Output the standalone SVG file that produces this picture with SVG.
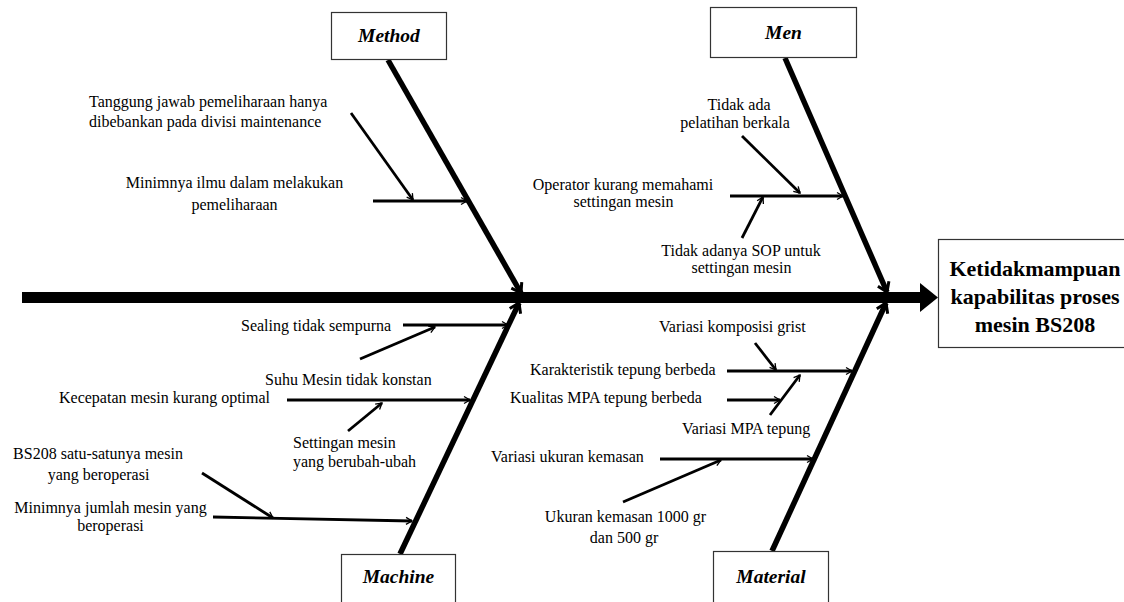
<svg xmlns="http://www.w3.org/2000/svg" width="1124" height="602" viewBox="0 0 1124 602">
<style>
.box{fill:#fff;stroke:#333;stroke-width:1.2}
.cat{font-family:'Liberation Serif','Times New Roman','DejaVu Serif',serif;font-size:19.5px;font-weight:bold;font-style:italic;text-anchor:middle;fill:#000}
.eff{font-family:'Liberation Serif','Times New Roman','DejaVu Serif',serif;font-size:22px;font-weight:bold;text-anchor:middle;fill:#000}
.t{font-family:'Liberation Serif','Times New Roman','DejaVu Serif',serif;font-size:16px;fill:#000}
.m{text-anchor:middle}
.bone{stroke:#000;stroke-width:5.5;fill:none;marker-end:url(#ah)}
.br{stroke:#000;stroke-width:2.8;fill:none;marker-end:url(#sm)}
</style>
<defs>
<marker id="ah" viewBox="-12 -8 14 16" markerWidth="14" markerHeight="16" refX="0" refY="0" orient="auto" markerUnits="userSpaceOnUse">
<path d="M-9,-6 L0,0 L-9,6" fill="none" stroke="#000" stroke-width="3"/>
</marker>
<marker id="sm" viewBox="-8 -5 10 10" markerWidth="10" markerHeight="10" refX="0" refY="0" orient="auto" markerUnits="userSpaceOnUse">
<path d="M-6,-3.5 L0,0 L-6,3.5" fill="none" stroke="#000" stroke-width="1.3"/>
</marker>
</defs>
<rect width="1124" height="602" fill="#fff"/>
<g id="connectors">
<line x1="22" y1="297.5" x2="922" y2="297.5" stroke="#000" stroke-width="11"/>
<polygon points="920,283 938,297.5 920,312" fill="#000"/>
<line class="bone" x1="388" y1="60" x2="521" y2="293"/>
<line class="bone" x1="785" y1="58" x2="887" y2="292"/>
<line class="bone" x1="400" y1="554" x2="519" y2="303"/>
<line class="bone" x1="772" y1="551" x2="886" y2="303"/>
<line class="br" x1="351" y1="113" x2="413" y2="200"/>
<line class="br" x1="373" y1="201" x2="467" y2="201"/>
<line class="br" x1="742" y1="136" x2="800" y2="193"/>
<line class="br" x1="730" y1="196" x2="843" y2="196"/>
<line class="br" x1="742" y1="238" x2="763" y2="197"/>
<line class="br" x1="403" y1="325" x2="508" y2="325"/>
<line class="br" x1="360" y1="359" x2="435" y2="327"/>
<line class="br" x1="287" y1="400" x2="470" y2="400"/>
<line class="br" x1="348" y1="431" x2="382" y2="403"/>
<line class="br" x1="202" y1="473" x2="273" y2="518"/>
<line class="br" x1="213" y1="517" x2="412" y2="521"/>
<line class="br" x1="755" y1="343" x2="776" y2="370"/>
<line class="br" x1="727" y1="371" x2="852" y2="371"/>
<line class="br" x1="727" y1="400" x2="780" y2="400"/>
<line class="br" x1="770" y1="415" x2="800" y2="375"/>
<line class="br" x1="660" y1="459" x2="813" y2="459"/>
<line class="br" x1="623" y1="502" x2="721" y2="460"/>
</g>
<g id="effect">
<rect class="box" x="938.5" y="239.5" width="200" height="108"/>
<text class="eff" x="1035" y="276">Ketidakmampuan</text>
<text class="eff" x="1035" y="304">kapabilitas proses</text>
<text class="eff" x="1035" y="332">mesin BS208</text>
</g>
<g id="method">
<rect class="box" x="331.5" y="12.5" width="115" height="47"/>
<text class="cat" x="389" y="42">Method</text>
</g>
<g id="men">
<rect class="box" x="710.5" y="7.5" width="146" height="50"/>
<text class="cat" x="783.5" y="39">Men</text>
</g>
<g id="machine">
<rect class="box" x="341.5" y="554.5" width="114" height="60"/>
<text class="cat" x="398.5" y="583">Machine</text>
</g>
<g id="material">
<rect class="box" x="713.5" y="551.5" width="115" height="60"/>
<text class="cat" x="771" y="583">Material</text>
</g>
<g id="method-causes">
<text class="t" x="89" y="107">Tanggung jawab pemeliharaan hanya</text>
<text class="t" x="89" y="127">dibebankan pada divisi maintenance</text>
<text class="t m" x="234.5" y="188">Minimnya ilmu dalam melakukan</text>
<text class="t m" x="234.5" y="210">pemeliharaan</text>
</g>
<g id="men-causes">
<text class="t m" x="739" y="110">Tidak ada</text>
<text class="t m" x="735" y="128">pelatihan berkala</text>
<text class="t m" x="623" y="190">Operator kurang memahami</text>
<text class="t m" x="623.5" y="207">settingan mesin</text>
<text class="t m" x="741" y="256">Tidak adanya SOP untuk</text>
<text class="t m" x="741.5" y="273">settingan mesin</text>
</g>
<g id="machine-causes">
<text class="t" x="241" y="331">Sealing tidak sempurna</text>
<text class="t" x="265" y="385">Suhu Mesin tidak konstan</text>
<text class="t" x="59" y="403">Kecepatan mesin kurang optimal</text>
<text class="t" x="293" y="448">Settingan mesin</text>
<text class="t" x="293" y="467">yang berubah-ubah</text>
<text class="t m" x="98" y="459">BS208 satu-satunya mesin</text>
<text class="t m" x="98.5" y="480">yang beroperasi</text>
<text class="t m" x="110.5" y="513">Minimnya jumlah mesin yang</text>
<text class="t m" x="110.5" y="531">beroperasi</text>
</g>
<g id="material-causes">
<text class="t" x="659" y="332">Variasi komposisi grist</text>
<text class="t" x="530" y="375">Karakteristik tepung berbeda</text>
<text class="t" x="510" y="403">Kualitas MPA tepung berbeda</text>
<text class="t" x="682" y="434">Variasi MPA tepung</text>
<text class="t" x="491" y="462">Variasi ukuran kemasan</text>
<text class="t m" x="625.5" y="522">Ukuran kemasan 1000 gr</text>
<text class="t m" x="624" y="543">dan 500 gr</text>
</g>
</svg>
